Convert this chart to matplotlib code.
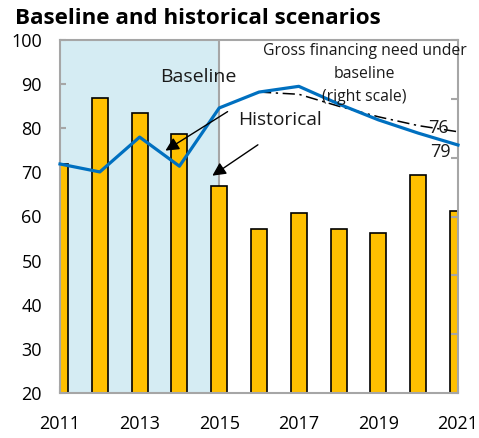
import matplotlib.pyplot as plt

plt.rcParams['font.family'] = ['Open Sans', 'DejaVu Sans']

years = [2011, 2012, 2013, 2014, 2015, 2016, 2017, 2018, 2019, 2020, 2021]
bars = [72.0, 86.8, 83.5, 78.7, 67.0, 57.1, 60.8, 57.1, 56.2, 69.4, 61.2]
historical = [71.9, 70.1, 78.0, 71.4, 84.6, 88.2, 89.5, 85.5, 81.9, 78.9, 76.2]
gfn_years = [2016, 2017, 2018, 2019, 2020, 2021]
gfn_baseline = [88.2, 87.7, 85.0, 82.6, 80.6, 79.2]

gray = '#A6A6A6'

fig = plt.figure(figsize=(4.79, 4.38), dpi=100)
ax = fig.add_axes([60 / 479, 1 - 393 / 438, 398 / 479, 353 / 438])

ax.axvspan(2011, 2015, color='#D5ECF3', zorder=0, lw=0)
ax.axvline(2015, color=gray, lw=1.5, zorder=1)

ax.bar(years, bars, width=0.4, color='#FFC000', edgecolor='black', lw=1.2, zorder=2)
ax.plot(years, historical, color='#0070C0', lw=2.3, zorder=4, clip_on=False)
ax.plot(gfn_years, gfn_baseline, color='black', lw=1.1, ls=(0, (8, 3, 1.5, 3)), zorder=3)

ax.set_xlim(2011, 2021)
ax.set_ylim(20, 100)
ax.set_yticks(range(20, 101, 10))
ax.set_xticks(range(2011, 2022, 2))
ax.set_xticks(range(2011, 2022), minor=True)
ax.tick_params(axis='y', direction='in', length=4, width=1.5, color=gray, labelsize=13, pad=13)
ax.tick_params(axis='x', which='both', direction='in', length=5, width=1.5, color=gray, labelsize=13, pad=16)
for s in ax.spines.values():
    s.set_color(gray)
    s.set_linewidth(1.5)

ax2 = ax.twinx()
ax2.set_ylim(0, 30)
ax2.set_yticks(range(0, 31, 5))
ax2.set_yticklabels([])
ax2.tick_params(axis='y', direction='in', length=5, width=1.5, color=gray)
for s in ax2.spines.values():
    s.set_visible(False)

ax.text(2014.47, 91.6, 'Baseline', fontsize=14, ha='center', va='center', color='#1a1a1a', zorder=5)
ax.text(2016.53, 81.9, 'Historical', fontsize=13.8, ha='center', va='center', color='#1a1a1a', zorder=5)
ax.annotate('', xy=(2013.59, 74.6), xytext=(2015.27, 84.1),
            arrowprops=dict(arrowstyle='-|>', color='black', lw=1.0, mutation_scale=20), zorder=5)
ax.annotate('', xy=(2014.77, 68.9), xytext=(2016.03, 76.6),
            arrowprops=dict(arrowstyle='-|>', color='black', lw=1.0, mutation_scale=20), zorder=5)

ax.text(2018.65, 92.3, 'Gross financing need under\nbaseline\n(right scale)', fontsize=11.3,
        ha='center', va='center', linespacing=1.55, color='#1a1a1a', zorder=5)
ax.text(2020.52, 80.0, '76', fontsize=13, ha='center', va='center', color='#1a1a1a', zorder=5)
ax.text(2020.57, 74.6, '79', fontsize=13, ha='center', va='center', color='#1a1a1a', zorder=5)

fig.text(15 / 479, 1 - 19 / 438, 'Baseline and historical scenarios', fontsize=16.1, fontweight='bold',
         ha='left', va='center')

fig.savefig('out.png', dpi=100)
